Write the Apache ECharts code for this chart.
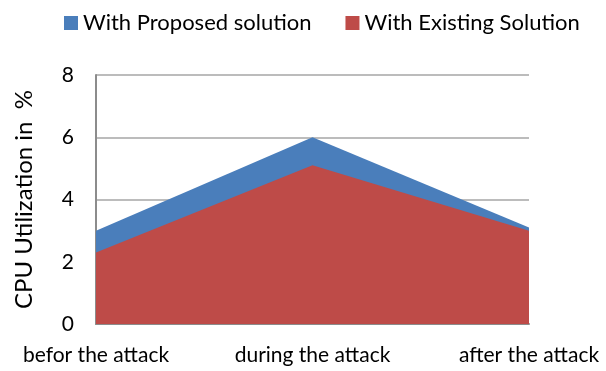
<!DOCTYPE html>
<html><head><meta charset="utf-8">
<script src="https://cdn.jsdelivr.net/npm/echarts@6/dist/echarts.min.js"></script>
<style>html,body{margin:0;padding:0;background:#fff}#c{width:606px;height:371px}</style>
</head><body><div id="c"></div>
<script>
const categories = ["befor the attack", "during the attack", "after the attack"];
const proposed = [3.0, 6.0, 3.1];
const existing = [2.3, 5.1, 3.0];
const yTicks = { min: 0, max: 8, interval: 2 };

const font = "Lato";
const chart = echarts.init(document.getElementById('c'), null, { renderer: 'canvas' });
chart.setOption({
  animation: false,
  backgroundColor: '#fff',
  textStyle: { fontFamily: font },
  legend: {
    top: 7, left: 59,
    itemWidth: 14, itemHeight: 14, itemGap: 34,
    icon: 'rect',
    textStyle: { fontFamily: font, fontSize: 22, color: '#000' },
    data: ["With Proposed solution", "With Existing Solution"]
  },
  grid: { left: 96, right: 77, top: 75, bottom: 47, containLabel: false },
  xAxis: {
    type: 'category', data: categories, boundaryGap: false,
    axisLine: { lineStyle: { color: '#8c8c8c', width: 2 } },
    axisTick: { show: false },
    axisLabel: { fontFamily: font, fontSize: 21, color: '#000', margin: 21, interval: 0 }
  },
  yAxis: {
    type: 'value', min: yTicks.min, max: yTicks.max, interval: yTicks.interval,
    name: 'CPU Utilization in  %', nameLocation: 'middle', nameGap: 60, nameRotate: 90,
    nameTextStyle: { fontFamily: font, fontSize: 24, color: '#000' },
    axisLine: { show: true, lineStyle: { color: '#8c8c8c', width: 2 } },
    axisTick: { show: false },
    axisLabel: { fontFamily: font, fontSize: 21, color: '#000', margin: 22 },
    splitLine: { lineStyle: { color: '#a6a6a6', width: 1.5 } }
  },
  series: [
    { name: "With Proposed solution", type: 'line', data: proposed, symbol: 'none',
      lineStyle: { width: 0 }, itemStyle: { color: '#4A7EBB' },
      areaStyle: { color: '#4A7EBB', opacity: 1 }, z: 2 },
    { name: "With Existing Solution", type: 'line', data: existing, symbol: 'none',
      lineStyle: { width: 0 }, itemStyle: { color: '#BE4B48' },
      areaStyle: { color: '#BE4B48', opacity: 1 }, z: 3 }
  ]
});
</script></body></html>
